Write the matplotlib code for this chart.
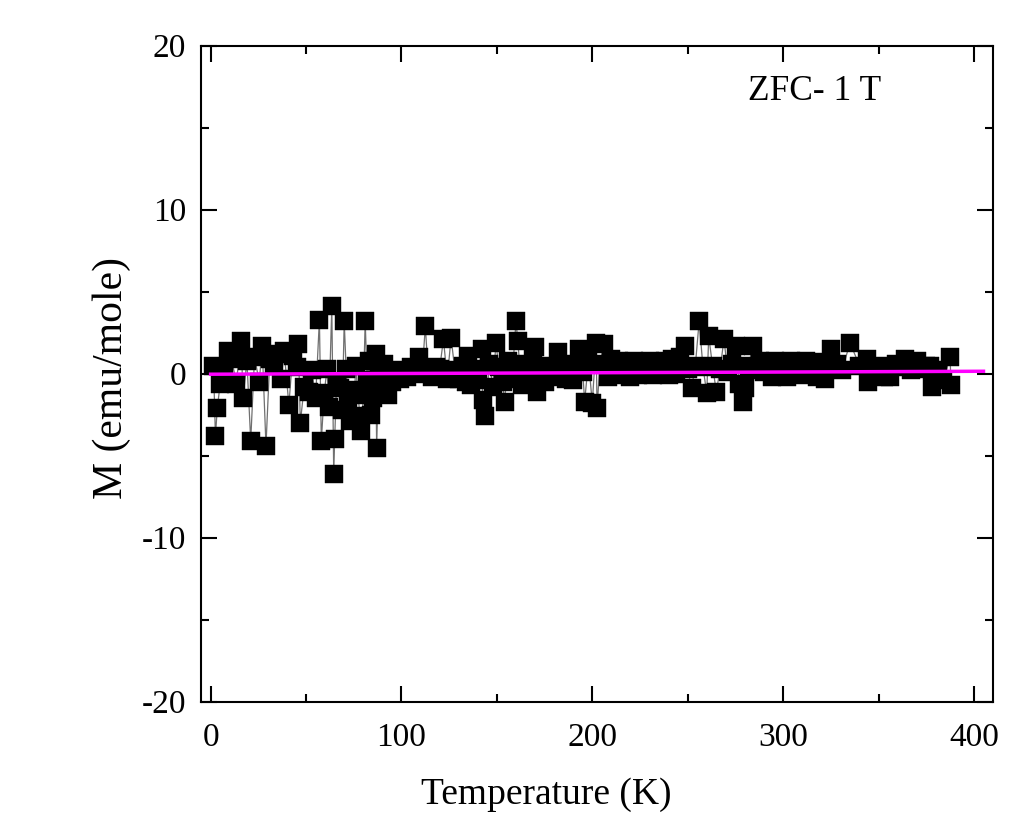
import matplotlib.pyplot as plt
from matplotlib.ticker import MultipleLocator

# --- Data, split by temperature range ---
t_a = [1.5, 2.5, 3.5, 5, 7, 9, 11, 13.5, 15, 16, 17, 19, 21, 23, 25.5, 27, 29,
       31, 33, 35, 37, 38.5, 41, 43, 45, 46, 47, 49, 51.5, 53, 55, 57, 58,
       59.5, 61, 62]
m_a = [0.5, -3.8, -2.1, -0.6, 0.3, 1.4, 0.9, -0.6, 1.2, 2.0, -1.5, 0.8, -4.1,
       1.0, -0.5, 1.7, -4.4, 0.9, 0.5, 1.2, -0.3, 1.4, -1.9, 1.1, 0.4, 1.8,
       -3.0, -0.8, -1.1, 0.2, -1.5, 3.3, -4.1, -1.2, 0.3, -2.0]

t_b = [63.5, 64.5, 65, 66, 68, 69, 70, 71, 72, 73, 75, 76, 77, 79, 80, 81, 82,
       83, 84, 85, 86.5, 87, 88, 90, 91, 93, 95, 97, 99, 101, 103, 105, 107,
       109, 111, 112.5, 114, 116, 118, 120, 122, 124]
m_b = [4.1, -6.1, -4.0, -0.5, -0.9, -2.2, 3.2, 0.3, -1.8, -2.9, -2.6, 0.5,
       -1.0, -3.5, -1.3, 3.2, -0.4, 0.8, -2.5, -1.5, 1.2, -4.5, 0.2, -0.8, 0.6,
       -1.3, -0.5, 0.2, -0.3, 0.1, -0.2, 0.4, 0.0, 1.0, 0.3, 2.9, 0.1, -0.2,
       0.4, 0.3, 2.1, -0.3]

t_c = [126, 128, 130, 132, 134, 135, 136.5, 138, 140, 142, 142.5, 144, 146,
       148, 149.5, 151, 153, 154, 156, 158, 160, 161, 162, 163, 165, 167, 169,
       170, 171, 173, 175, 177, 179, 182, 184, 186, 188, 190, 192, 193, 195,
       196, 198, 200, 202, 202.5, 204]
m_c = [2.2, 0.2, -0.3, 0.5, -0.5, 1.1, -0.7, 0.3, -0.4, 1.5, -1.6, -2.6, 0.6,
       -0.8, 1.9, 0.4, -0.5, -1.7, 0.8, -0.3, 3.2, 2.0, 0.4, -0.7, 0.6, -0.2,
       0.9, 1.6, -1.1, 0.3, -0.5, 0.5, -0.2, 1.3, 0.3, -0.3, 0.6, -0.4, 0.4,
       1.5, 0.1, -1.7, 0.8, -1.8, 1.9, -2.1, 0.6]

t_d = [206, 208, 210, 212, 214, 216, 218, 220, 222, 224, 226, 228, 230, 232,
       234, 236, 238, 240, 242, 244, 246]
m_d = [1.8, -0.2, 0.9, -0.1, 0.8, 0.0, 0.7, -0.2, 0.8, -0.1, 0.7, 0.1, 0.8,
       -0.1, 0.7, 0.0, 0.8, -0.1, 0.9, 0.0, 1.0]

t_e = [248.5, 250, 252, 254, 256, 258, 260, 261, 263, 265, 267, 269, 271, 273,
       275.5, 277, 279, 280, 282, 284, 286, 288]
m_e = [1.7, 0.3, -0.9, 0.5, 3.2, 0.4, -1.2, 2.3, 0.5, -1.1, 0.3, 2.1, 0.1,
       0.6, 1.7, -0.6, -1.7, -0.9, 0.5, 1.7, 0.2, 0.8]

t_f = [290, 292, 294, 296, 298, 300, 302, 304, 306, 308, 310, 312, 314, 316,
       318, 320, 322]
m_f = [0.1, 0.7, -0.2, 0.8, -0.1, 0.6, -0.2, 0.8, 0.0, 0.7, -0.1, 0.8, 0.0,
       0.6, -0.2, 0.7, -0.3]

t_g = [325, 328, 331, 335, 340, 344, 344.5, 348, 351, 353, 356, 359, 362, 364,
       367, 370, 373, 375, 377, 378, 381, 384, 387.5, 388]
m_g = [1.5, 0.6, 0.2, 1.9, 0.5, 0.9, -0.5, 0.3, 0.5, -0.2, -0.2, 0.6, 0.4,
       0.9, 0.2, 0.8, 0.3, 0.5, 0.5, -0.8, 0.2, -0.4, 1.0, -0.7]

temp_k = t_a + t_b + t_c + t_d + t_e + t_f + t_g
moment = m_a + m_b + m_c + m_d + m_e + m_f + m_g

# linear fit drawn in magenta
fit_t = [0, 405]
fit_m = [-0.03, 0.15]

label_text = "ZFC- 1 T"

plt.rcParams["font.family"] = ["Liberation Serif", "DejaVu Serif"]
plt.rcParams["axes.unicode_minus"] = False

fig = plt.figure(figsize=(10.33, 8.15), dpi=100, facecolor="white")
ax = fig.add_axes([0.1943, 0.1390, 0.7670, 0.8049])

# thin gray connecting line + black squares
ax.plot(temp_k, moment, color="#707070", linewidth=0.9, zorder=2)
ax.plot(temp_k, moment, linestyle="none", marker="s", markersize=13,
        markerfacecolor="black", markeredgecolor="black", markeredgewidth=0.3,
        zorder=3)
ax.plot(fit_t, fit_m, color="#ff00ff", linewidth=2.5, zorder=4)

ax.set_xlim(-5.2, 410)
ax.set_ylim(-20, 20)
ax.xaxis.set_major_locator(MultipleLocator(100))
ax.xaxis.set_minor_locator(MultipleLocator(50))
ax.yaxis.set_major_locator(MultipleLocator(10))
ax.yaxis.set_minor_locator(MultipleLocator(5))

ax.tick_params(which="both", direction="in", top=True, right=True, width=1.5)
ax.tick_params(which="major", length=11.5)
ax.tick_params(which="minor", length=6)
ax.tick_params(axis="x", which="major", labelsize=24, pad=15)
ax.tick_params(axis="y", which="major", labelsize=24, pad=10.5)
for s in ax.spines.values():
    s.set_linewidth(1.5)

ax.set_xlabel("Temperature (K)", fontsize=27)
ax.xaxis.set_label_coords(0.436, -0.115)
ax.set_ylabel("M (emu/mole)", fontsize=30)
ax.yaxis.set_label_coords(-0.088, 0.493)

ax.text(0.691, 0.93, label_text, transform=ax.transAxes, fontsize=25.5,
        ha="left", va="center")

plt.savefig("out.png", dpi=100, facecolor="white")
